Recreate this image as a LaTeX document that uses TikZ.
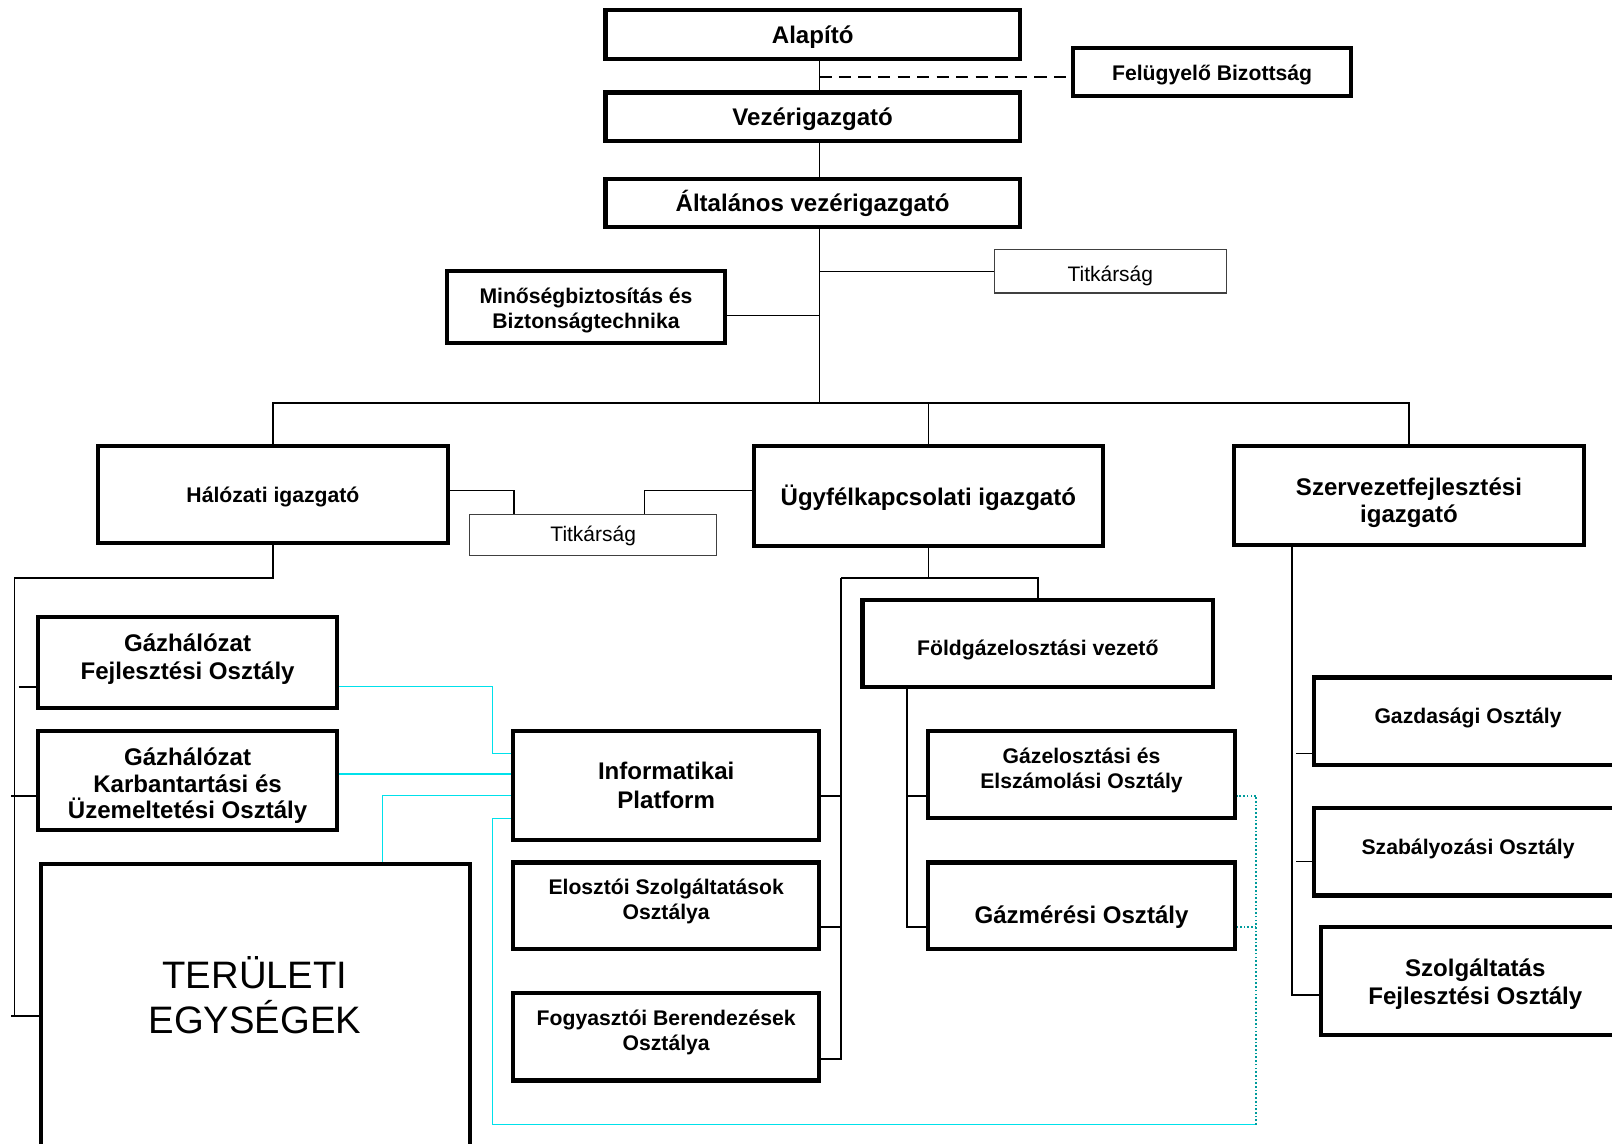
\documentclass[tikz,border=0pt]{standalone}
\usepackage{fontspec}
\setmainfont{Liberation Sans}
\usetikzlibrary{calc}
\definecolor{cyl}{RGB}{0,225,235}
\definecolor{tealc}{RGB}{0,155,155}
\begin{document}
\begin{tikzpicture}[x=0.5pt,y=-0.5pt,
  bbox/.style={draw, line width=2pt, inner sep=0pt, align=center, fill=white},
  tbox/.style={draw=black!75, line width=0.5pt, inner sep=0pt, align=center, fill=white},
  big/.style={font=\fontsize{11.7}{13.5}\selectfont\bfseries},
  small/.style={font=\fontsize{10.3}{12}\selectfont\bfseries},
  reg/.style={font=\fontsize{10.2}{12}\selectfont},
  lbl/.style={align=center, inner sep=0pt},
  conn/.style={line width=0.8pt},
  cy/.style={draw=cyl, line width=0.7pt},
  cyt/.style={draw=tealc, line width=0.8pt, densely dotted}]
\useasboundingbox (0,0) rectangle (1568,1112);
\clip (0,0) rectangle (1568,1112);

% helper coordinates
\coordinate (trunk) at (797,0);
\coordinate (bus) at (797,392);

% top chain
\node[bbox, minimum width=201.5pt, minimum height=23.5pt,
  label={[lbl, big, yshift=-1.5pt]center:{Alapító}}] (alap) at (790.5,33.5) {};
\node[bbox, minimum width=201.5pt, minimum height=23.5pt,
  label={[lbl, big, yshift=-1pt]center:{Vezérigazgató}}] (vez) at (790.5,113.5) {};
\node[bbox, minimum width=201.5pt, minimum height=23.5pt,
  label={[lbl, big]center:{Általános vezérigazgató}}] (alt) at (790.5,197.5) {};
\node[bbox, minimum width=135pt, minimum height=23pt,
  label={[lbl, small, yshift=-1.5pt]center:{Felügyelő Bizottság}}] (fel) at (1179,70) {};
\node[tbox, minimum width=113pt, minimum height=21pt,
  label={[lbl, reg, yshift=-2pt]center:{Titkárság}}] (tit1) at (1080,264) {};
\node[bbox, minimum width=135pt, minimum height=35pt,
  label={[lbl, small, yshift=-1.5pt]center:{Minőségbiztosítás és\\Biztonságtechnika}}] (min) at (570,299) {};

% directors
\node[bbox, minimum width=170.5pt, minimum height=47pt,
  label={[lbl, small, yshift=-1pt]center:{Hálózati igazgató}}] (hal) at (265.5,481) {};
\node[tbox, minimum width=120pt, minimum height=20pt,
  label={[lbl, reg, yshift=-0.5pt]center:{Titkárság}}] (tit2) at (577,520) {};
\node[bbox, minimum width=170pt, minimum height=48.5pt,
  label={[lbl, big, yshift=-1pt]center:{Ügyfélkapcsolati igazgató}}] (ugy) at (903,482.5) {};
\node[bbox, minimum width=170.5pt, minimum height=48pt,
  label={[lbl, big, yshift=-3.5pt]center:{Szervezetfejlesztési\\igazgató}}] (szerv) at (1370.5,482) {};

% left column
\node[bbox, minimum width=145.5pt, minimum height=44.5pt,
  label={[lbl, big, yshift=1.7pt]center:{Gázhálózat\\Fejlesztési Osztály}}] (gf) at (182.5,644.5) {};
\node[bbox, minimum width=145.5pt, minimum height=48pt,
  label={[lbl, font=\fontsize{11.7}{13}\selectfont\bfseries, yshift=-2.7pt]center:{Gázhálózat\\Karbantartási és\\Üzemeltetési Osztály}}] (gk) at (182.5,759) {};
\node[bbox, minimum width=208.5pt, minimum height=150pt, anchor=north] (ter) at (248.5,838) {};
\node[lbl, font=\fontsize{18.6}{22}\selectfont] (tertxt) at (248,968) {TERÜLETI\\EGYSÉGEK};

% middle column
\node[bbox, minimum width=149pt, minimum height=53pt,
  label={[lbl, font=\fontsize{11.7}{14}\selectfont\bfseries]center:{Informatikai\\Platform}}] (inf) at (648,764) {};
\node[bbox, minimum width=149pt, minimum height=42pt,
  label={[lbl, small, yshift=2pt]center:{Elosztói Szolgáltatások\\Osztálya}}] (elo) at (648,881) {};
\node[bbox, minimum width=149pt, minimum height=42.5pt,
  label={[lbl, small, yshift=2pt]center:{Fogyasztói Berendezések\\Osztálya}}] (fog) at (648,1008.5) {};

% Földgáz branch
\node[bbox, minimum width=170.5pt, minimum height=42pt,
  label={[lbl, small, yshift=-3pt]center:{Földgázelosztási vezető}}] (fold) at (1009.5,626) {};
\node[bbox, minimum width=149pt, minimum height=42.5pt,
  label={[lbl, small, yshift=2.2pt]center:{Gázelosztási és\\Elszámolási Osztály}}] (gaze) at (1052,753.5) {};
\node[bbox, minimum width=149pt, minimum height=42pt,
  label={[lbl, big, yshift=-5.5pt]center:{Gázmérési Osztály}}] (gazm) at (1052,881) {};

% right column
\node[bbox, minimum width=150pt, minimum height=42.5pt,
  label={[lbl, small, yshift=1.5pt]center:{Gazdasági Osztály}}] (gazd) at (1428,701.5) {};
\node[bbox, minimum width=150pt, minimum height=42.5pt,
  label={[lbl, small, yshift=1.5pt]center:{Szabályozási Osztály}}] (szab) at (1428,828.5) {};
\node[bbox, minimum width=150pt, minimum height=52.5pt,
  label={[lbl, big, yshift=-1.3pt]center:{Szolgáltatás\\Fejlesztési Osztály}}] (szolg) at (1435,954.5) {};

% ---- black connectors ----
\draw[conn] (alap.south -| trunk) -- (vez.north -| trunk);
\draw[conn] (vez.south -| trunk) -- (alt.north -| trunk);
\draw[conn] (alt.south -| trunk) -- (bus);
\coordinate (dj) at (797,75);
\draw[conn, dash pattern=on 6pt off 3.5pt] (dj) -- (fel.west |- dj);
\draw[conn] (trunk |- tit1.west) -- (tit1.west);
\coordinate (mj) at (797,307);
\draw[conn] (min.east |- mj) -- (mj);
\draw[conn] (hal.north) -- (hal.north |- bus) -- (szerv.north |- bus) -- (szerv.north);
\draw[conn] (ugy.north |- bus) -- (ugy.north);

\coordinate (h2) at (500,477);
\draw[conn] (hal.east |- h2) -- (h2) -- (h2 |- tit2.north);
\coordinate (u2) at (627,477);
\draw[conn] (ugy.west |- u2) -- (u2) -- (u2 |- tit2.north);

% Hálózati subtree
\coordinate (hl) at (14,562);
\coordinate (hlb) at (14,987);
\draw[conn] (hal.south) -- (hal.south |- hl) -- (hl) -- (hlb);
\coordinate (b1) at (18,668);
\draw[conn] (b1) -- (gf.west |- b1);
\coordinate (b2) at (11,774);
\draw[conn] (b2) -- (gk.west |- b2);
\coordinate (b3) at (11,988);
\draw[conn] (b3) -- (ter.west |- b3);

% Ügyfél subtree
\coordinate (uj) at (818,562);
\coordinate (ub) at (818,1030);
\draw[conn] (ugy.south) -- (ugy.south |- uj);
\draw[conn] (uj) -- (fold.north |- uj) -- (fold.north);
\draw[conn] (uj) -- (ub) -- (fog.east |- ub);
\coordinate (c1) at (818,774);
\draw[conn] (inf.east |- c1) -- (c1);
\coordinate (c2) at (818,902);
\draw[conn] (elo.east |- c2) -- (c2);

% Földgáz subtree
\coordinate (f1) at (882,774);
\coordinate (f2) at (882,902);
\draw[conn] (fold.south -| f1) -- (f2) -- (gazm.west |- f2);
\draw[conn] (f1) -- (gaze.west |- f1);

% Szervezet subtree
\coordinate (s0) at (1257,0);
\coordinate (s3) at (1257,968);
\draw[conn] (szerv.south -| s0) -- (s3) -- (szolg.west |- s3);
\coordinate (s1) at (1261,733);
\draw[conn] (s1) -- (gazd.west |- s1);
\coordinate (s2) at (1261,838);
\draw[conn] (s2) -- (szab.west |- s2);

% ---- cyan connectors ----
\coordinate (k1) at (479,668);
\coordinate (k2) at (479,733);
\draw[cy] (gf.east |- k1) -- (k1) -- (k2) -- (inf.west |- k2);
\coordinate (k3) at (400,753);
\draw[cy] (gk.east |- k3) -- (inf.west |- k3);
\coordinate (k4) at (372,774);
\draw[cy] (inf.west |- k4) -- (k4) -- (k4 |- ter.north);
\coordinate (k5) at (479,796);
\coordinate (k6) at (479,1094);
\coordinate (k7) at (1222,1094);
\coordinate (k8) at (1222,774);
\coordinate (k9) at (1222,902);
\draw[cy] (inf.west |- k5) -- (k5) -- (k6) -- (k7);
\draw[cyt] (k7) -- (k8) -- (gaze.east |- k8);
\draw[cyt] (k9) -- (gazm.east |- k9);
\end{tikzpicture}
\end{document}
